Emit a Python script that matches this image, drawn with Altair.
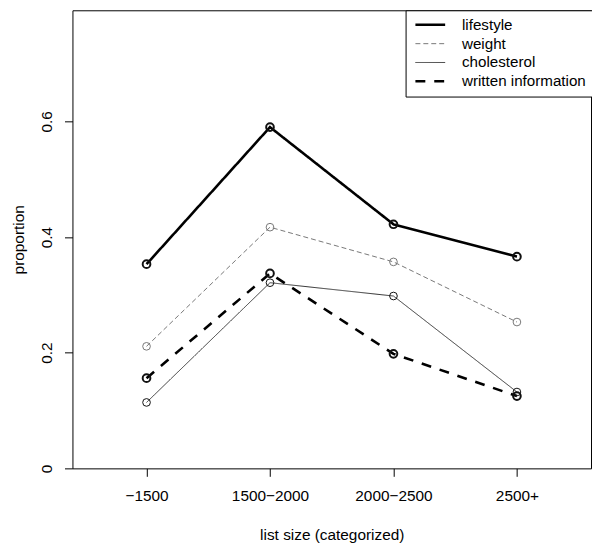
import json
import altair as alt
import pandas as pd

# ---- data ----
categories = ["−1500", "1500−2000", "2000−2500", "2500+"]
positions = [1, 2, 3, 4]
series = ["lifestyle", "weight", "cholesterol", "written information"]
lifestyle = [0.353, 0.590, 0.422, 0.366]
weight = [0.211, 0.417, 0.357, 0.253]
cholesterol = [0.114, 0.321, 0.298, 0.132]
written = [0.156, 0.337, 0.198, 0.125]
y_ticks = [0, 0.2, 0.4, 0.6]

series_values = {
    "lifestyle": lifestyle,
    "weight": weight,
    "cholesterol": cholesterol,
    "written information": written,
}
rows = []
for s in series:
    for p, c, v in zip(positions, categories, series_values[s]):
        rows.append({"series": s, "pos": p, "category": c, "proportion": v})
df = pd.DataFrame(rows)

# ---- styles ----
line_colors = ["#000000", "#777777", "#333333", "#000000"]
line_widths = [2.6, 1.0, 1.0, 2.6]
line_dashes = [[1, 0], [5, 3], [1, 0], [10, 9]]
FONT = "Liberation Sans"
FS = 15.5

label_expr = json.dumps(categories, ensure_ascii=False) + "[datum.value - 1]"

x_enc = alt.X(
    "pos:Q",
    scale=alt.Scale(domain=[0.4, 4.6], nice=False, zero=False),
    axis=alt.Axis(values=positions, labelExpr=label_expr, title="list size (categorized)"),
)
y_enc = alt.Y(
    "proportion:Q",
    scale=alt.Scale(domain=[0, 0.792], nice=False, zero=True),
    axis=alt.Axis(values=y_ticks, format="~g", title="proportion",
                  labelAngle=-90, labelAlign="center", labelBaseline="bottom"),
)

lines = alt.Chart().mark_line().encode(
    x=x_enc,
    y=y_enc,
    detail="series:N",
    color=alt.Color("series:N", scale=alt.Scale(domain=series, range=line_colors),
                    sort=series, legend=alt.Legend(title=None)),
    strokeWidth=alt.StrokeWidth("series:N",
                                scale=alt.Scale(type="ordinal", domain=series, range=line_widths),
                                sort=series, legend=alt.Legend(title=None)),
    strokeDash=alt.StrokeDash("series:N", scale=alt.Scale(domain=series, range=line_dashes),
                              sort=series, legend=alt.Legend(title=None)),
    order="pos:Q",
)

thick_test = "datum.series === 'lifestyle' || datum.series === 'written information'"
points = alt.Chart().mark_point(shape="circle", filled=False, size=60, opacity=1).encode(
    x=x_enc,
    y=y_enc,
    color=alt.condition("datum.series === 'weight'", alt.value("#777777"), alt.value("#111111")),
    strokeWidth=alt.condition(thick_test, alt.value(2), alt.value(1)),
)

chart = (
    alt.layer(lines, points, data=df)
    .properties(
        width=523,
        height=462,
        padding={"left": 65, "top": 0, "right": 1, "bottom": 78},
        autosize=alt.AutoSizeParams(type="none"),
    )
    .configure_view(stroke="#000000", strokeWidth=1)
    .configure_axis(
        grid=False,
        domain=False,
        tickColor="#000000",
        tickSize=8,
        tickWidth=1,
        labelFont=FONT,
        labelFontSize=FS,
        labelColor="#000000",
        titleFont=FONT,
        titleFontSize=FS,
        titleFontWeight="normal",
        titleColor="#000000",
    )
    .configure_axisX(labelPadding=12.5, titlePadding=24)
    .configure_axisY(labelPadding=10.2, titlePadding=13.5)
    .configure_legend(
        orient="none",
        legendX=336,
        legendY=0,
        strokeColor="#000000",
        fillColor="#ffffff",
        padding=7,
        symbolType="M-3,0H3",
        symbolSize=100,
        symbolOffset=10.25,
        labelOffset=24.3,
        rowPadding=3,
        labelFont=FONT,
        labelFontSize=15.3,
        labelColor="#000000",
    )
)

chart.save("out.html", embed_options={"renderer": "svg", "actions": False})
